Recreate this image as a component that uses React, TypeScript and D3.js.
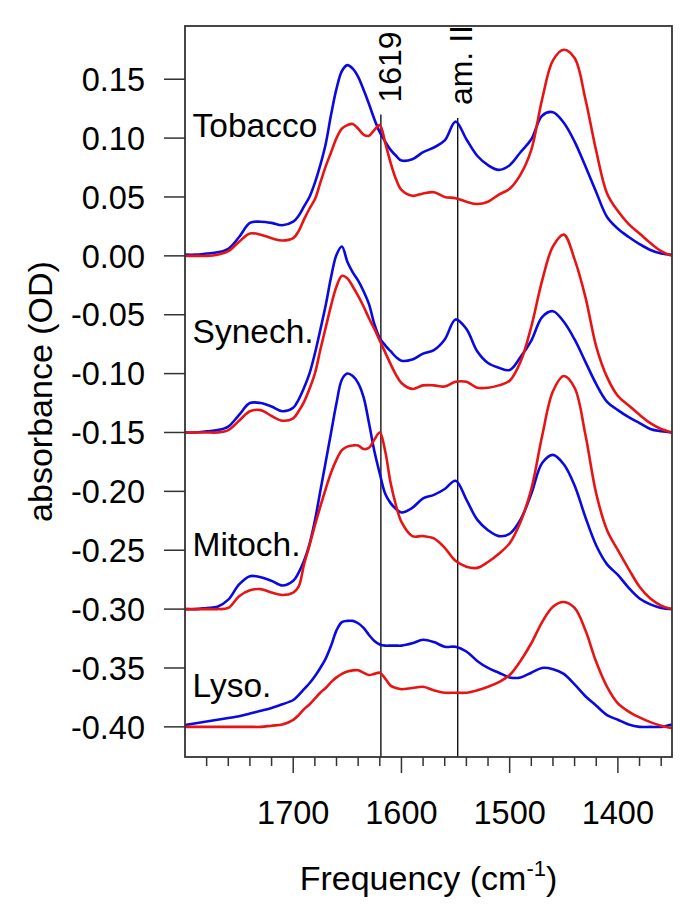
import React, { useEffect, useRef } from 'react';
import * as d3 from 'd3';

// Wavenumber grid (cm-1), shared by every spectrum
const wavenumbers = [
  1800, 1790, 1780, 1770, 1760, 1750, 1740, 1730, 1720, 1710, 1700,
  1695, 1690, 1685, 1680, 1675, 1670, 1665, 1660, 1655, 1650, 1645, 1640, 1635, 1630, 1625, 1620, 1615, 1610, 1605, 1600,
  1590, 1580, 1570, 1560, 1550, 1540, 1530, 1520, 1510, 1500, 1490, 1480, 1470, 1460, 1450, 1440, 1430, 1420, 1410, 1400,
  1390, 1380, 1370, 1360, 1350,
];

// Spectra, already offset (Tobacco 0, Synech. -0.15, Mitoch. -0.30, Lyso. -0.40)
const tobaccoBlue = [
  0.001, 0.001, 0.002, 0.003, 0.006, 0.016, 0.028, 0.029, 0.028, 0.026, 0.029,
  0.034, 0.042, 0.050, 0.062, 0.077, 0.095, 0.120, 0.142, 0.157, 0.162, 0.159, 0.152, 0.141, 0.129, 0.116, 0.105, 0.097, 0.090, 0.085, 0.081,
  0.082, 0.088, 0.092, 0.098, 0.114, 0.099, 0.085, 0.077, 0.073, 0.077, 0.088, 0.099, 0.119, 0.122, 0.113, 0.097, 0.076, 0.054, 0.033, 0.023,
  0.016, 0.010, 0.005, 0.002, 0.001,
];
const tobaccoRed = [
  0.000, 0.000, 0.000, 0.001, 0.004, 0.012, 0.019, 0.018, 0.015, 0.013, 0.015,
  0.021, 0.031, 0.040, 0.048, 0.062, 0.076, 0.088, 0.100, 0.108, 0.111, 0.112, 0.108, 0.103, 0.102, 0.107, 0.111, 0.096, 0.079, 0.065, 0.056,
  0.051, 0.053, 0.054, 0.050, 0.049, 0.046, 0.044, 0.046, 0.052, 0.057, 0.069, 0.090, 0.133, 0.166, 0.175, 0.168, 0.133, 0.089, 0.053, 0.038,
  0.027, 0.019, 0.011, 0.004, 0.000,
];
const synechBlue = [
  -0.150, -0.150, -0.149, -0.148, -0.145, -0.135, -0.125, -0.125, -0.128, -0.132, -0.129,
  -0.122, -0.112, -0.100, -0.083, -0.063, -0.042, -0.018, 0.001, 0.008, -0.005, -0.014, -0.021, -0.030, -0.041, -0.058, -0.070, -0.076, -0.081, -0.086, -0.089,
  -0.088, -0.083, -0.080, -0.071, -0.054, -0.062, -0.081, -0.091, -0.095, -0.097, -0.086, -0.072, -0.052, -0.047, -0.056, -0.071, -0.090, -0.109, -0.124, -0.131,
  -0.137, -0.142, -0.147, -0.149, -0.150,
];
const synechRed = [
  -0.150, -0.150, -0.150, -0.150, -0.148, -0.140, -0.132, -0.131, -0.136, -0.140, -0.138,
  -0.132, -0.124, -0.113, -0.100, -0.080, -0.061, -0.042, -0.026, -0.017, -0.019, -0.026, -0.034, -0.043, -0.053, -0.062, -0.072, -0.082, -0.092, -0.101, -0.108,
  -0.113, -0.110, -0.110, -0.111, -0.107, -0.107, -0.112, -0.112, -0.110, -0.106, -0.090, -0.060, -0.021, 0.008, 0.018, -0.003, -0.035, -0.077, -0.103, -0.119,
  -0.127, -0.135, -0.142, -0.147, -0.150,
];
const mitochBlue = [
  -0.300, -0.300, -0.299, -0.298, -0.292, -0.279, -0.272, -0.273, -0.276, -0.280, -0.276,
  -0.269, -0.259, -0.245, -0.225, -0.200, -0.175, -0.150, -0.125, -0.105, -0.100, -0.102, -0.108, -0.120, -0.142, -0.166, -0.185, -0.202, -0.210, -0.215, -0.218,
  -0.214, -0.206, -0.203, -0.198, -0.191, -0.207, -0.224, -0.233, -0.238, -0.236, -0.224, -0.202, -0.176, -0.169, -0.177, -0.195, -0.222, -0.246, -0.262, -0.271,
  -0.282, -0.291, -0.296, -0.299, -0.300,
];
const mitochRed = [
  -0.300, -0.300, -0.300, -0.300, -0.299, -0.289, -0.284, -0.283, -0.286, -0.288, -0.286,
  -0.281, -0.262, -0.246, -0.229, -0.213, -0.198, -0.184, -0.173, -0.165, -0.162, -0.161, -0.161, -0.164, -0.163, -0.156, -0.150, -0.166, -0.193, -0.212, -0.226,
  -0.238, -0.238, -0.240, -0.248, -0.259, -0.264, -0.265, -0.260, -0.253, -0.244, -0.226, -0.198, -0.153, -0.115, -0.102, -0.112, -0.152, -0.202, -0.233, -0.250,
  -0.266, -0.281, -0.291, -0.297, -0.300,
];
const lysoBlue = [
  -0.3984, -0.3969, -0.3955, -0.3940, -0.3925, -0.3910, -0.3887, -0.3864, -0.3840, -0.3808, -0.3772,
  -0.373, -0.368, -0.363, -0.357, -0.350, -0.342, -0.331, -0.318, -0.311, -0.310, -0.310, -0.312, -0.316, -0.322, -0.327, -0.330, -0.331, -0.331, -0.331, -0.331,
  -0.329, -0.326, -0.328, -0.332, -0.332, -0.336, -0.344, -0.350, -0.354, -0.358, -0.358, -0.354, -0.350, -0.351, -0.355, -0.364, -0.374, -0.382, -0.390, -0.394,
  -0.398, -0.400, -0.400, -0.400, -0.398,
];
const lysoRed = [
  -0.400, -0.400, -0.400, -0.400, -0.400, -0.400, -0.400, -0.400, -0.399, -0.398, -0.394,
  -0.390, -0.385, -0.381, -0.376, -0.371, -0.367, -0.362, -0.358, -0.355, -0.353, -0.352, -0.352, -0.354, -0.356, -0.355, -0.354, -0.359, -0.365, -0.367, -0.368,
  -0.367, -0.366, -0.369, -0.371, -0.371, -0.371, -0.369, -0.366, -0.362, -0.356, -0.344, -0.329, -0.311, -0.298, -0.294, -0.299, -0.318, -0.345, -0.366, -0.380,
  -0.387, -0.392, -0.396, -0.399, -0.401,
];

const sampleNames = ['Tobacco', 'Synech.', 'Mitoch.', 'Lyso.'];
const sampleLabelY = [0.101, -0.074, -0.255, -0.375];
const blueSeries = [tobaccoBlue, synechBlue, mitochBlue, lysoBlue];
const redSeries = [tobaccoRed, synechRed, mitochRed, lysoRed];

const yTickValues = [0.15, 0.10, 0.05, 0.00, -0.05, -0.10, -0.15, -0.20, -0.25, -0.30, -0.35, -0.40];
const xMajorTicks = [1700, 1600, 1500, 1400];
const xMinorTicks = [1780, 1760, 1740, 1720, 1680, 1660, 1640, 1620, 1580, 1560, 1540, 1520, 1480, 1460, 1440, 1420, 1380, 1360];

const markerPositions = [1619, 1548];
const markerLabels = ['1619', 'am. II'];
const markerTop = [0.120, 0.117];

const FONT = '"Liberation Sans", Arial, Helvetica, sans-serif';

function SpectraChart({ width = 685, height = 920 }: { width?: number; height?: number }) {
  const svgRef = useRef<SVGSVGElement>(null);

  useEffect(() => {
    if (!svgRef.current) return;
    const svg = d3.select(svgRef.current);
    svg.selectAll('*').remove();

    const margin = { top: 26, right: 13, bottom: 163, left: 185 };
    const x = d3.scaleLinear().domain([1800, 1350]).range([margin.left, width - margin.right]);
    const y = d3.scaleLinear().domain([-0.4256, 0.1952]).range([height - margin.bottom, margin.top]);
    const bottom = height - margin.bottom;
    const axisColor = '#333';

    svg.append('rect').attr('width', width).attr('height', height).attr('fill', '#fff');

    // Marker lines (drawn under the spectra)
    markerPositions.forEach((w, i) => {
      svg.append('line')
        .attr('x1', x(w)).attr('x2', x(w))
        .attr('y1', y(markerTop[i])).attr('y2', bottom)
        .attr('stroke', '#000').attr('stroke-width', 1.3);
    });
    const labelDx = [20, 14];
    const labelDy = [12, 13];
    markerLabels.forEach((t, i) => {
      svg.append('text')
        .attr('transform', `translate(${x(markerPositions[i]) + labelDx[i]},${y(markerTop[i]) - labelDy[i]}) rotate(-90)`)
        .attr('font-family', FONT).attr('font-size', 32).attr('fill', '#000')
        .text(t);
    });

    const line = d3.line<number>()
      .x((_, i) => x(wavenumbers[i]))
      .y(d => y(d))
      .curve(d3.curveCatmullRom.alpha(0.5));

    blueSeries.forEach((s, i) => {
      svg.append('path').datum(s)
        .attr('fill', 'none').attr('stroke', '#0a0ae0').attr('stroke-width', 2.6)
        .attr('stroke-linejoin', 'round').attr('d', line);
      svg.append('path').datum(redSeries[i])
        .attr('fill', 'none').attr('stroke', '#e81414').attr('stroke-width', 2.6)
        .attr('stroke-linejoin', 'round').attr('d', line);
    });

    // Sample names
    sampleNames.forEach((name, i) => {
      svg.append('text')
        .attr('x', x(1793)).attr('y', y(sampleLabelY[i]))
        .attr('font-family', FONT).attr('font-size', 33.5).attr('fill', '#000')
        .text(name);
    });

    // Frame
    svg.append('rect')
      .attr('x', margin.left).attr('y', margin.top)
      .attr('width', width - margin.left - margin.right)
      .attr('height', height - margin.top - margin.bottom)
      .attr('fill', 'none').attr('stroke', axisColor).attr('stroke-width', 1.8);

    // Y ticks + labels
    yTickValues.forEach(v => {
      svg.append('line')
        .attr('x1', margin.left - 21).attr('x2', margin.left)
        .attr('y1', y(v)).attr('y2', y(v))
        .attr('stroke', axisColor).attr('stroke-width', 1.5);
      svg.append('text')
        .attr('x', margin.left - 40).attr('y', y(v))
        .attr('dy', '0.36em')
        .attr('text-anchor', 'end')
        .attr('font-family', FONT).attr('font-size', 32.5).attr('fill', '#000')
        .text(v.toFixed(2));
    });

    // X ticks
    xMinorTicks.forEach(w => {
      svg.append('line')
        .attr('x1', x(w)).attr('x2', x(w))
        .attr('y1', bottom).attr('y2', bottom + 9)
        .attr('stroke', axisColor).attr('stroke-width', 1.5);
    });
    xMajorTicks.forEach(w => {
      svg.append('line')
        .attr('x1', x(w)).attr('x2', x(w))
        .attr('y1', bottom).attr('y2', bottom + 16)
        .attr('stroke', axisColor).attr('stroke-width', 1.5);
      svg.append('text')
        .attr('x', x(w)).attr('y', bottom + 67)
        .attr('text-anchor', 'middle')
        .attr('font-family', FONT).attr('font-size', 32.5).attr('fill', '#000')
        .text(String(w));
    });

    // Axis titles
    const xt = svg.append('text')
      .attr('x', (margin.left + width - margin.right) / 2).attr('y', 890)
      .attr('text-anchor', 'middle')
      .attr('font-family', FONT).attr('font-size', 34).attr('fill', '#000');
    xt.append('tspan').text('Frequency (cm');
    xt.append('tspan').attr('font-size', 22).attr('dy', -14).text('-1');
    xt.append('tspan').attr('dy', 14).text(')');

    svg.append('text')
      .attr('transform', `translate(52,${(margin.top + bottom) / 2}) rotate(-90)`)
      .attr('text-anchor', 'middle')
      .attr('font-family', FONT).attr('font-size', 34).attr('fill', '#000')
      .text('absorbance (OD)');
  }, [width, height]);

  return (
    <svg ref={svgRef} width={width} height={height}
      style={{ position: 'absolute', left: 0, top: 0, display: 'block' }} />
  );
}

export default function App() {
  return <SpectraChart />;
}
